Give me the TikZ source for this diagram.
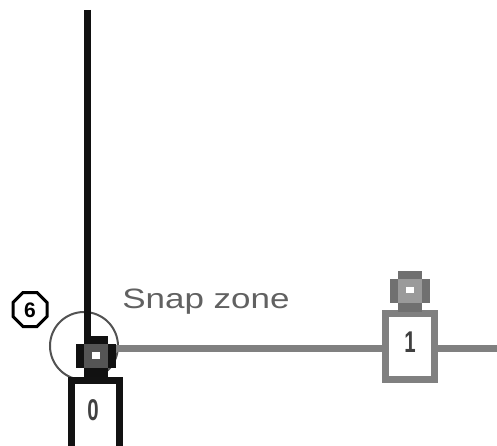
\documentclass[tikz,border=0pt]{standalone}
\usepackage{fontspec}
\setmainfont{Liberation Sans}
\begin{document}
\begin{tikzpicture}[x=1pt,y=-1pt,
  boxshape/.style={draw=#1, fill=white, line width=7pt, rectangle, inner sep=0pt},
  digit/.style={text=black!75, font=\bfseries\fontsize{30}{30}\selectfont, inner sep=0pt},
  wire/.style={line width=7pt, color=black!50}
]
\definecolor{capdark}{HTML}{111111}
\definecolor{capgrey}{HTML}{555555}
\definecolor{capdarkB}{HTML}{707070}
\definecolor{capgreyB}{HTML}{9A9A9A}
\useasboundingbox (0,0) rectangle (497,446);
\clip (0,0) rectangle (497,446);

% snap zone circle
\node[circle, draw=black!68, line width=2pt, minimum size=68pt, inner sep=0pt] (zone) at (84,346) {};

% connector crosses
\newcommand{\capcross}[6]{%
  \fill[#3] (#1-12,#2) rectangle (#1+12,#2+8);
  \fill[#3] (#1-20,#2+8) rectangle (#1+20,#2+32);
  \fill[#3] (#1-12,#2+32) rectangle (#1+12,#2+41);
  \fill[#4] (#1-12,#2+8) rectangle (#1+12,#2+32);
  \fill[white] (#1-4,#2+16) rectangle (#1+4,#2+#6);
  \coordinate (#5top) at (#1,#2);
}

% wires
\coordinate (c0e) at (115,348.5);
\coordinate (rightend) at (497,348.5);
\node[boxshape=black!50, minimum width=49pt, minimum height=66pt] (b1) at (410,346.5) {};
\draw[wire] (c0e) -- (c0e -| b1.west);
\draw[wire] (c0e -| b1.east) -- (rightend);

% vertical black wire
\coordinate (vtop) at (87.5,10);
\coordinate (vbot) at (87.5,337);
\draw[line width=7pt, capdark] (vtop) -- (vbot);

\capcross{95.5}{336}{capdark}{capgrey}{c0}{23}
\capcross{409.5}{271}{capdarkB}{capgreyB}{c1}{22}

% box 0 (cut at bottom)
\node[boxshape=black!93, minimum width=48pt, minimum height=96pt] (b0) at (95.5,428.5) {};
\node[digit, xscale=0.68] (l0) at (93,410.5) {0};
\node[digit, xscale=0.68] (l1) at (410,342) {1};

% snap zone label
\node[anchor=base west, inner sep=0pt, text=black!62, font=\fontsize{28}{28}\selectfont, xscale=1.25] (snap) at (122,308) {Snap zone};

% octagon 6
\draw[line width=3pt, black] (30-7.04,309.5-17) -- (30+7.04,309.5-17) -- (30+17,309.5-7.04) -- (30+17,309.5+7.04) -- (30+7.04,309.5+17) -- (30-7.04,309.5+17) -- (30-17,309.5+7.04) -- (30-17,309.5-7.04) -- cycle;
\node[inner sep=0pt, font=\bfseries\fontsize{21}{21}\selectfont] (six) at (30,310) {6};
\end{tikzpicture}
\end{document}
